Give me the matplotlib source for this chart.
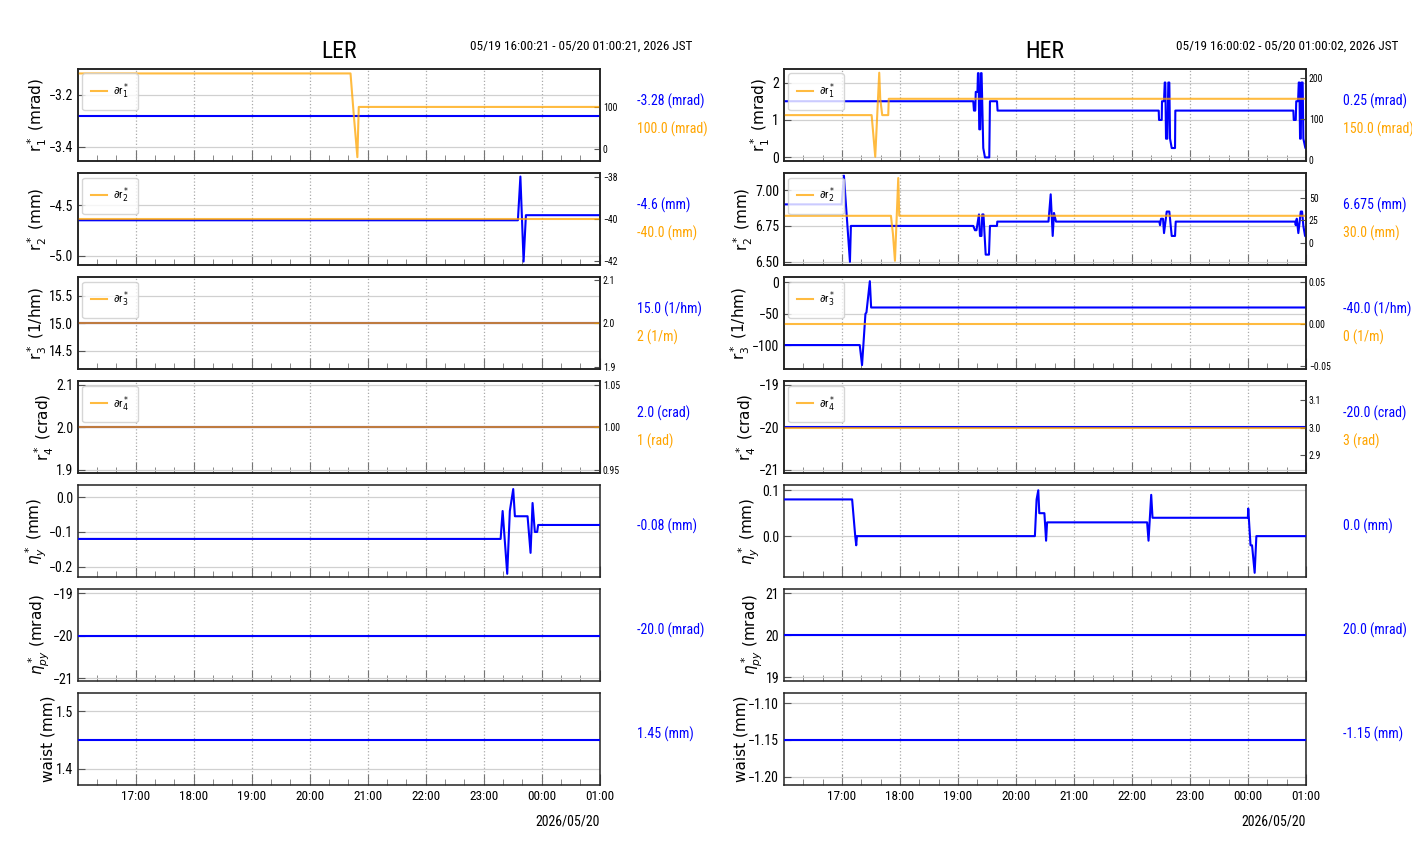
import matplotlib
matplotlib.use("Agg")
import matplotlib.pyplot as plt
import matplotlib.dates as mdates
from matplotlib import font_manager
import pandas as pd

# narrow font like the original screenshot, fall back if missing
names = {f.name for f in font_manager.fontManager.ttflist}
narrow = next((n for n in ["Liberation Sans Narrow", "Roboto Condensed", "Open Sans Condensed"] if n in names), "DejaVu Sans")
plt.rcParams["font.family"] = [narrow, "DejaVu Sans"]
plt.rcParams["axes.unicode_minus"] = True

#%% ---- LER data (clock times, values) ----
ler_start, ler_end = "16:00:21", "01:00:21"
ler_r1_t = [ler_start, ler_end]
ler_r1_v = [-3.28, -3.28]
ler_dr1_t = [ler_start, "20:42:14", "20:45:30", "20:49:20", "20:50:46", ler_end]
ler_dr1_v = [180, 180, 84, -20, 100, 100]
ler_r2_t = [ler_start, "23:35:20", "23:37:55", "23:41:13", "23:43:37", ler_end]
ler_r2_v = [-4.65, -4.65, -4.22, -5.056, -4.6, -4.6]
ler_dr2_t = [ler_start, ler_end]
ler_dr2_v = [-40, -40]
ler_r3_t = [ler_start, ler_end]
ler_r3_v = [15.0, 15.0]
ler_dr3_t = [ler_start, ler_end]
ler_dr3_v = [2, 2]
ler_r4_t = [ler_start, ler_end]
ler_r4_v = [2.0, 2.0]
ler_dr4_t = [ler_start, ler_end]
ler_dr4_v = [1, 1]
ler_etay_t = [ler_start, "23:17:28", "23:19:33", "23:24:18", "23:27:00", "23:30:30", "23:32:14",
              "23:45:20", "23:48:26", "23:50:30", "23:52:52", "23:55:15", "23:56:17", ler_end]
ler_etay_v = [-0.12, -0.12, -0.04, -0.22, -0.04, 0.023, -0.055,
              -0.055, -0.16, -0.017, -0.10, -0.10, -0.08, -0.08]
ler_etapy_t = [ler_start, ler_end]
ler_etapy_v = [-20.0, -20.0]
ler_waist_t = [ler_start, ler_end]
ler_waist_v = [1.45, 1.45]

ler_blue_txt = ["-3.28 (mrad)", "-4.6 (mm)", "15.0 (1/hm)", "2.0 (crad)", "-0.08 (mm)", "-20.0 (mrad)", "1.45 (mm)"]
ler_orange_txt = ["100.0 (mrad)", "-40.0 (mm)", "2 (1/m)", "1 (rad)"]

#%% ---- HER data ----
her_start, her_end = "16:00:02", "01:00:02"
her_r1_t = [her_start,
            "19:15:50", "19:16:33", "19:17:53", "19:18:24", "19:20:10", "19:20:41", "19:21:18", "19:22:01",
            "19:23:03", "19:23:48", "19:24:25", "19:26:10", "19:27:55", "19:32:22", "19:33:05", "19:40:21", "19:40:58",
            "22:27:37", "22:27:56", "22:30:43", "22:31:02", "22:33:06", "22:33:50", "22:34:27", "22:35:10",
            "22:36:31", "22:37:33", "22:38:35", "22:39:19", "22:41:04", "22:44:29", "22:44:48",
            "00:46:52", "00:47:17", "00:49:20", "00:49:51", "00:51:43", "00:52:27", "00:53:04", "00:53:47",
            "00:54:31", "00:55:08", "00:56:29", "00:57:12", "00:59:17", her_end]
her_r1_v = [1.5,
            1.5, 1.25, 1.25, 1.75, 1.75, 2.25, 2.25, 0.75,
            0.75, 2.25, 2.25, 0.25, 0.0, 0.0, 1.5, 1.5, 1.25,
            1.25, 1.0, 1.0, 1.5, 1.5, 2.0, 2.0, 0.5,
            0.5, 2.0, 2.0, 0.5, 0.25, 0.25, 1.25,
            1.25, 1.0, 1.0, 1.5, 1.5, 2.0, 2.0, 0.5,
            0.5, 2.0, 2.0, 0.5, 0.25, 0.25]
her_dr1_t = [her_start, "17:30:43", "17:34:27", "17:38:35", "17:39:37", "17:41:41", "17:47:54", "17:48:25", her_end]
her_dr1_v = [110, 110, 8, 214, 150, 110, 110, 150.0, 150.0]
her_r2_t = [her_start, "16:59:41", "17:02:04", "17:08:17", "17:09:17",
            "19:15:50", "19:17:35", "19:19:08", "19:21:43", "19:22:46", "19:24:19", "19:25:08", "19:26:22",
            "19:28:40", "19:32:04", "19:33:06", "19:40:21", "19:40:40",
            "20:33:37", "20:35:54", "20:37:58", "20:39:19", "20:41:24",
            "22:28:14", "22:28:58", "22:30:00", "22:32:04", "22:33:06", "22:35:54", "22:38:35", "22:41:04",
            "22:44:29", "22:45:12",
            "00:48:37", "00:49:20", "00:50:22", "00:52:01", "00:54:31", "00:55:52", "00:57:12", "00:58:57", her_end]
her_r2_v = [6.9, 6.9, 7.1, 6.5, 6.75,
            6.75, 6.72, 6.72, 6.83, 6.68, 6.68, 6.83, 6.83,
            6.55, 6.55, 6.75, 6.75, 6.78,
            6.78, 6.97, 6.68, 6.84, 6.78,
            6.78, 6.755, 6.80, 6.80, 6.70, 6.85, 6.85, 6.68,
            6.68, 6.78,
            6.78, 6.755, 6.80, 6.70, 6.85, 6.85, 6.75, 6.68, 6.675]
her_dr2_t = [her_start, "17:50:41", "17:52:45", "17:54:50", "17:58:15", "17:59:17", her_end]
her_dr2_v = [30, 30, 10, -20, 72, 30, 30]
her_r3_t = [her_start, "17:18:25", "17:20:48", "17:24:19", "17:25:21", "17:28:52", "17:30:12", her_end]
her_r3_v = [-100, -100, -132, -50, -48, 2, -40, -40]
her_dr3_t = [her_start, her_end]
her_dr3_v = [0, 0]
her_r4_t = [her_start, her_end]
her_r4_v = [-20.0, -20.0]
her_dr4_t = [her_start, her_end]
her_dr4_v = [3, 3]
her_etay_t = [her_start, "17:10:33", "17:13:45", "17:14:47", "17:15:31",
              "20:19:33", "20:21:19", "20:23:04", "20:24:06", "20:29:23", "20:31:08", "20:32:10",
              "22:15:37", "22:17:04", "22:19:51", "22:21:12",
              "23:59:48", "00:00:13", "00:02:34", "00:04:08", "00:06:50", "00:08:36", her_end]
her_etay_v = [0.08, 0.08, 0.0, -0.02, 0.0,
              0.0, 0.08, 0.10, 0.05, 0.05, -0.01, 0.03,
              0.03, -0.01, 0.09, 0.04,
              0.04, 0.06, -0.02, -0.02, -0.08, 0.0, 0.0]
her_etapy_t = [her_start, her_end]
her_etapy_v = [20.0, 20.0]
her_waist_t = [her_start, her_end]
her_waist_v = [-1.15, -1.15]

her_blue_txt = ["0.25 (mrad)", "6.675 (mm)", "-40.0 (1/hm)", "-20.0 (crad)", "0.0 (mm)", "20.0 (mrad)", "-1.15 (mm)"]
her_orange_txt = ["150.0 (mrad)", "30.0 (mm)", "0 (1/m)", "3 (rad)"]

ylabels = [r"r$^*_1$ (mrad)", r"r$^*_2$ (mm)", r"r$^*_3$ (1/hm)", r"r$^*_4$ (crad)",
           r"$\eta^*_y$ (mm)", r"$\eta^*_{py}$ (mrad)", "waist (mm)"]
leg_labels = [r"$\partial$r$^*_1$", r"$\partial$r$^*_2$", r"$\partial$r$^*_3$", r"$\partial$r$^*_4$"]

# axis ranges / ticks
ler_ylim = [(-3.454, -3.10), (-5.088, -4.186), (14.17, 15.84), (1.893, 2.109),
            (-0.229, 0.034), (-21.07, -18.91), (1.372, 1.531)]
ler_yticks = [[-3.4, -3.2], [-5.0, -4.5], [14.5, 15.0, 15.5], [1.9, 2.0, 2.1],
              [-0.2, -0.1, 0.0], [-21, -20, -19], [1.4, 1.5]]
ler_y2lim = [(-28.6, 190.5), (-42.17, -37.83), (1.895, 2.107), (0.946, 1.055)]
ler_y2ticks = [[0, 100], [-42, -40, -38], [1.9, 2.0, 2.1], [0.95, 1.00, 1.05]]
her_ylim = [(-0.09, 2.36), (6.479, 7.118), (-138, 8.5), (-21.07, -18.91),
            (-0.089, 0.111), (18.91, 21.09), (-1.2115, -1.0865)]
her_yticks = [[0, 1, 2], [6.5, 6.75, 7.0], [-100, -50, 0], [-21, -20, -19],
              [0.0, 0.1], [19, 20, 21], [-1.20, -1.15, -1.10]]
her_y2lim = [(-2, 223), (-24.5, 77.5), (-0.054, 0.056), (2.835, 3.17)]
her_y2ticks = [[0, 100, 200], [0, 25, 50], [-0.05, 0.0, 0.05], [2.9, 3.0, 3.1]]


def to_dt(times):
    out = []
    for s in times:
        day = "2026-05-19" if int(s[:2]) >= 12 else "2026-05-20"
        out.append(pd.Timestamp(f"{day} {s}").to_pydatetime())
    return out


def draw_ring(left, right, name, span, start, end, blue, orange, ylim, yticks, y2lim, y2ticks, btxt, otxt):
    gs = fig.add_gridspec(7, 1, left=left, right=right, top=0.9201, bottom=0.0914, hspace=0.134)
    axes = []
    for i in range(7):
        ax = fig.add_subplot(gs[i], sharex=axes[0] if axes else None)
        axes.append(ax)
        t, v = blue[i]
        ax.plot(to_dt(t), v, color="blue", lw=1.5, zorder=3)
        ax.set_ylim(*ylim[i])
        ax.set_yticks(yticks[i])
        ax.set_ylabel(ylabels[i], fontfamily="DejaVu Sans", fontsize=11, labelpad=0)
        ax.grid(axis="x", linestyle=":", color="#aaaaaa", lw=0.9)
        ax.grid(axis="y", linestyle="-", color="#d0d0d0", lw=0.9)
        ax.tick_params(axis="y", direction="in", length=5, labelsize=10, color="#555555")
        ax.tick_params(axis="x", which="major", direction="in", length=8, color="#777777", labelsize=9.5)
        ax.tick_params(axis="x", which="minor", direction="in", length=4, color="#777777")
        for sp in ax.spines.values():
            sp.set_color("#222222")
            sp.set_linewidth(1.1)
        ax.text(1.07, 0.652 if i < 4 else 0.554, btxt[i], transform=ax.transAxes,
                color="blue", fontsize=10, va="center", ha="left")
        if i < 4:
            ax2 = ax.twinx()
            t2, v2 = orange[i]
            ax2.plot(to_dt(t2), v2, color="orange", lw=1.5, alpha=0.75, label=leg_labels[i])
            ax2.set_ylim(*y2lim[i])
            ax2.set_yticks(y2ticks[i])
            ax2.tick_params(axis="y", direction="in", length=4, labelsize=7, color="#555555", pad=2)
            for sp in ax2.spines.values():
                sp.set_color("#222222")
                sp.set_linewidth(1.1)
            ax2.legend(loc="upper left", fontsize=8, handlelength=1.5, handletextpad=0.5,
                       borderpad=0.75, borderaxespad=0.4)
            ax.text(1.07, 0.348, otxt[i], transform=ax.transAxes,
                    color="orange", fontsize=10, va="center", ha="left")
        if i < 6:
            ax.tick_params(labelbottom=False)
    ax0 = axes[0]
    ax0.xaxis.set_major_locator(mdates.HourLocator())
    ax0.xaxis.set_minor_locator(mdates.MinuteLocator(byminute=[20, 40]))
    ax0.xaxis.set_major_formatter(mdates.DateFormatter("%H:%M"))
    ax0.set_xlim(to_dt([start, end]))
    ax0.text(0.5, 1.19, name, transform=ax0.transAxes, fontsize=17, ha="center", va="center")
    ax0.text(0.751, 1.25, span, transform=ax0.transAxes, fontsize=9.5, ha="left", va="center")
    axes[-1].text(1.0, -0.40, "2026/05/20", transform=axes[-1].transAxes, fontsize=10, ha="right", va="center")
    return axes


fig = plt.figure(figsize=(14.12, 8.64), dpi=100)

ler_blue = [(ler_r1_t, ler_r1_v), (ler_r2_t, ler_r2_v), (ler_r3_t, ler_r3_v), (ler_r4_t, ler_r4_v),
            (ler_etay_t, ler_etay_v), (ler_etapy_t, ler_etapy_v), (ler_waist_t, ler_waist_v)]
ler_orange = [(ler_dr1_t, ler_dr1_v), (ler_dr2_t, ler_dr2_v), (ler_dr3_t, ler_dr3_v), (ler_dr4_t, ler_dr4_v)]
her_blue = [(her_r1_t, her_r1_v), (her_r2_t, her_r2_v), (her_r3_t, her_r3_v), (her_r4_t, her_r4_v),
            (her_etay_t, her_etay_v), (her_etapy_t, her_etapy_v), (her_waist_t, her_waist_v)]
her_orange = [(her_dr1_t, her_dr1_v), (her_dr2_t, her_dr2_v), (her_dr3_t, her_dr3_v), (her_dr4_t, her_dr4_v)]

draw_ring(0.0552, 0.425, "LER", "05/19 16:00:21 - 05/20 01:00:21, 2026 JST", ler_start, ler_end,
          ler_blue, ler_orange, ler_ylim, ler_yticks, ler_y2lim, ler_y2ticks, ler_blue_txt, ler_orange_txt)
draw_ring(0.5552, 0.925, "HER", "05/19 16:00:02 - 05/20 01:00:02, 2026 JST", her_start, her_end,
          her_blue, her_orange, her_ylim, her_yticks, her_y2lim, her_y2ticks, her_blue_txt, her_orange_txt)

fig.savefig("out.png", dpi=100)
